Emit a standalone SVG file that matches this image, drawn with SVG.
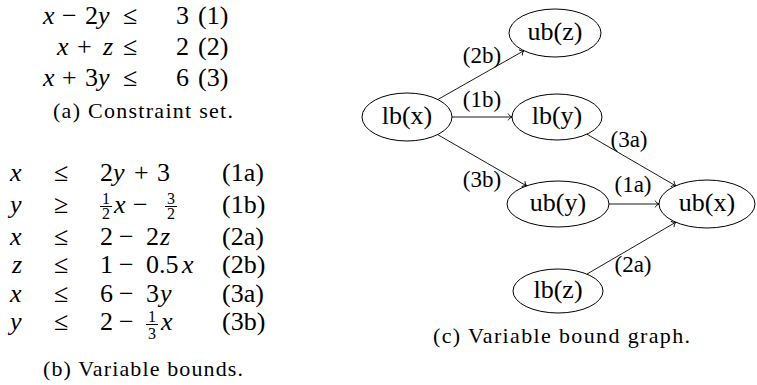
<svg xmlns="http://www.w3.org/2000/svg" width="757" height="385" viewBox="0 0 757 385">
<style>
text{font-family:"Liberation Serif","Times New Roman",serif;fill:#000}
.m{font-size:26px}
.i{font-style:italic}
.f{font-size:16px}
.cap{font-size:22px}
.nt{font-size:26px;text-anchor:middle}
.lb{font-size:23px;text-anchor:middle}
.node ellipse{fill:#fff;stroke:#000;stroke-width:1}
.edges line{stroke:#000;stroke-width:0.9;marker-end:url(#arr)}
.bar{stroke:#000;stroke-width:1}
</style>
<defs>
<marker id="arr" markerUnits="userSpaceOnUse" markerWidth="10" markerHeight="10" viewBox="-5 -5 10 10" refX="0" refY="0" orient="auto">
<path d="M-3.8,-3.4 C-3.2,-1.6 -1.2,-0.4 0,0 C-1.2,0.4 -3.2,1.6 -3.8,3.4" fill="none" stroke="#000" stroke-width="0.9"/>
</marker>
</defs>

<g id="constraints">
<text class="m" y="24"><tspan class="i" x="43">x</tspan><tspan x="62">−</tspan><tspan x="85">2</tspan><tspan class="i" x="98">y</tspan><tspan x="123">≤</tspan><tspan x="176">3</tspan><tspan x="198">(1)</tspan></text>
<text class="m" y="55"><tspan class="i" x="57">x</tspan><tspan x="77">+</tspan><tspan class="i" x="103">z</tspan><tspan x="123">≤</tspan><tspan x="176">2</tspan><tspan x="198">(2)</tspan></text>
<text class="m" y="86"><tspan class="i" x="43">x</tspan><tspan x="62">+</tspan><tspan x="85">3</tspan><tspan class="i" x="98">y</tspan><tspan x="123">≤</tspan><tspan x="176">6</tspan><tspan x="198">(3)</tspan></text>
<text class="cap" x="53" y="118" textLength="180">(a) Constraint set.</text>
</g>

<g id="bounds">
<text class="m" y="181"><tspan class="i" x="10">x</tspan><tspan x="54">≤</tspan><tspan x="100">2</tspan><tspan class="i" x="113">y</tspan><tspan x="134">+</tspan><tspan x="157">3</tspan><tspan x="222">(1a)</tspan></text>
<text class="m" y="213"><tspan class="i" x="10">y</tspan><tspan x="54">≥</tspan><tspan class="i" x="114">x</tspan><tspan x="133">−</tspan><tspan x="222">(1b)</tspan></text>
<text class="f" x="106" y="203.5" text-anchor="middle">1</text>
<line class="bar" x1="100" y1="206.5" x2="112" y2="206.5"/>
<text class="f" x="106" y="219" text-anchor="middle">2</text>
<text class="f" x="171" y="203.5" text-anchor="middle">3</text>
<line class="bar" x1="165" y1="206.5" x2="177" y2="206.5"/>
<text class="f" x="171" y="219" text-anchor="middle">2</text>
<text class="m" y="245"><tspan class="i" x="10">x</tspan><tspan x="54">≤</tspan><tspan x="100">2</tspan><tspan x="119">−</tspan><tspan x="146">2</tspan><tspan class="i" x="160">z</tspan><tspan x="222">(2a)</tspan></text>
<text class="m" y="273"><tspan class="i" x="12">z</tspan><tspan x="54">≤</tspan><tspan x="100">1</tspan><tspan x="119">−</tspan><tspan x="146">0.5</tspan><tspan class="i" x="182">x</tspan><tspan x="222">(2b)</tspan></text>
<text class="m" y="302"><tspan class="i" x="10">x</tspan><tspan x="54">≤</tspan><tspan x="100">6</tspan><tspan x="119">−</tspan><tspan x="146">3</tspan><tspan class="i" x="160">y</tspan><tspan x="222">(3a)</tspan></text>
<text class="m" y="330"><tspan class="i" x="10">y</tspan><tspan x="54">≤</tspan><tspan x="100">2</tspan><tspan x="119">−</tspan><tspan class="i" x="161">x</tspan><tspan x="222">(3b)</tspan></text>
<text class="f" x="152" y="322" text-anchor="middle">1</text>
<line class="bar" x1="146" y1="324.5" x2="158" y2="324.5"/>
<text class="f" x="152" y="339" text-anchor="middle">3</text>
<text class="cap" x="43" y="376" textLength="200">(b) Variable bounds.</text>
</g>

<g class="edges" id="connectors">
<line x1="437.8" y1="99.5" x2="523.9" y2="50.7"/>
<line x1="452" y1="117" x2="512" y2="117"/>
<line x1="437.6" y1="134.6" x2="526.6" y2="185.9"/>
<line x1="586.9" y1="134.2" x2="675.7" y2="185.8"/>
<line x1="609" y1="204" x2="659" y2="204"/>
<line x1="586.9" y1="274.1" x2="675.8" y2="222.2"/>
</g>
<g id="edge-labels">
<text class="lb" x="482" y="63">(2b)</text>
<text class="lb" x="482" y="107">(1b)</text>
<text class="lb" x="482" y="187">(3b)</text>
<text class="lb" x="629" y="147">(3a)</text>
<text class="lb" x="633" y="192">(1a)</text>
<text class="lb" x="633" y="272">(2a)</text>
</g>

<g class="node" id="lbx"><ellipse cx="407" cy="117" rx="45" ry="24"/><text class="nt" x="407" y="124">lb(x)</text></g>
<g class="node" id="ubz"><ellipse cx="555" cy="33" rx="46" ry="24"/><text class="nt" x="555" y="40">ub(z)</text></g>
<g class="node" id="lby"><ellipse cx="557" cy="117" rx="45" ry="23"/><text class="nt" x="557" y="124">lb(y)</text></g>
<g class="node" id="uby"><ellipse cx="558" cy="204" rx="51" ry="23"/><text class="nt" x="558" y="211">ub(y)</text></g>
<g class="node" id="ubx"><ellipse cx="707" cy="204" rx="48" ry="24"/><text class="nt" x="707" y="211">ub(x)</text></g>
<g class="node" id="lbz"><ellipse cx="558" cy="291" rx="45" ry="22"/><text class="nt" x="558" y="298">lb(z)</text></g>

<text class="cap" x="433" y="343" textLength="257">(c) Variable bound graph.</text>
</svg>
